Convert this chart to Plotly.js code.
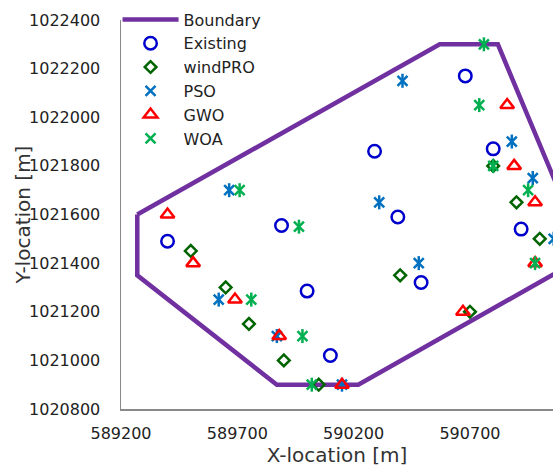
<!DOCTYPE html>
<html>
<head>
<meta charset="utf-8">
<script src="https://cdn.plot.ly/plotly-3.0.1.min.js"></script>
<style>
html,body{margin:0;padding:0;overflow:hidden;background:#fff;}
#chart{width:553px;height:468px;}
</style>
</head>
<body>
<div id="chart"></div>
<script>
// Data
const boundaryX = [589270, 590570, 590820, 591200, 590220, 589870, 589270, 589270];
const boundaryY = [1021600, 1022300, 1022300, 1021430, 1020900, 1020900, 1021350, 1021600];

const existingX = [589400, 589890, 590000, 590100, 590290, 590390, 590490, 590680, 590800, 590920];
const existingY = [1021490, 1021555, 1021285, 1021020, 1021860, 1021590, 1021320, 1022170, 1021870, 1021540];

const windproX = [589500, 589650, 589750, 589900, 590050, 590400, 590700, 590800, 590900, 591000];
const windproY = [1021450, 1021300, 1021150, 1021000, 1020900, 1021350, 1021200, 1021800, 1021650, 1021500];

const psoX = [589620, 589665, 589870, 590150, 590310, 590410, 590480, 590880, 590970, 591060];
const psoY = [1021250, 1021700, 1021100, 1020900, 1021650, 1022150, 1021400, 1021900, 1021750, 1021500];

const gwoX = [589400, 589510, 589690, 589880, 590150, 590670, 590860, 590890, 590980, 590980];
const gwoY = [1021600, 1021400, 1021250, 1021100, 1020900, 1021200, 1022050, 1021800, 1021650, 1021400];

const woaX = [589710, 589965, 589760, 589980, 590020, 590760, 590740, 590800, 590950, 590980];
const woaY = [1021700, 1021550, 1021250, 1021100, 1020900, 1022300, 1022050, 1021800, 1021700, 1021400];

const xTickVals = [589200, 589700, 590200, 590700];
const yTickVals = [1020800, 1021000, 1021200, 1021400, 1021600, 1021800, 1022000, 1022200, 1022400];

const FONT = 'DejaVu Sans';
const AST = 10;
const traces = [
  {x: boundaryX, y: boundaryY, name: 'Boundary', mode: 'lines',
   line: {color: '#7030A0', width: 4.5}},
  {x: existingX, y: existingY, name: 'Existing', mode: 'markers',
   marker: {symbol: 'circle-open', size: 12.5, color: '#0000CC', line: {width: 2.5, color: '#0000CC'}}},
  {x: windproX, y: windproY, name: 'windPRO', mode: 'markers',
   marker: {symbol: 'diamond-open', size: 9, color: '#006400', line: {width: 2.5, color: '#006400'}}},
  {x: psoX, y: psoY, name: 'PSO', mode: 'markers', legendgroup: 'pso',
   marker: {symbol: 'x-thin-open', size: AST, color: '#0070C0', line: {width: 2.5, color: '#0070C0'}}},
  {x: psoX, y: psoY, name: 'PSO', mode: 'markers', legendgroup: 'pso', showlegend: false,
   marker: {symbol: 'line-ns-open', size: AST, color: '#0070C0', line: {width: 2.5, color: '#0070C0'}}},
  {x: gwoX, y: gwoY, name: 'GWO', mode: 'markers',
   marker: {symbol: 'triangle-up-open', size: 12, color: '#FF0000', line: {width: 2.5, color: '#FF0000'}}},
  {x: woaX, y: woaY, name: 'WOA', mode: 'markers', legendgroup: 'woa',
   marker: {symbol: 'x-thin-open', size: AST, color: '#00B050', line: {width: 2.5, color: '#00B050'}}},
  {x: woaX, y: woaY, name: 'WOA', mode: 'markers', legendgroup: 'woa', showlegend: false,
   marker: {symbol: 'line-ns-open', size: AST, color: '#00B050', line: {width: 2.5, color: '#00B050'}}}
];

const layout = {
  width: 553, height: 468,
  margin: {l: 121, r: 0, t: 20, b: 59},
  paper_bgcolor: '#fff', plot_bgcolor: '#fff',
  font: {family: FONT, color: '#222'},
  showlegend: true,
  legend: {x: -0.008, y: 1.045, xanchor: 'left', yanchor: 'top', bgcolor: 'rgba(0,0,0,0)',
           font: {family: FONT, size: 16, color: '#222'}, itemwidth: 56, tracegroupgap: 0},
  xaxis: {
    range: [589200, 591057], tickvals: xTickVals, ticktext: xTickVals.map(String),
    showgrid: false, zeroline: false, showline: true, linecolor: '#898989', linewidth: 1.5,
    ticks: '', ticklabelstandoff: 9, tickfont: {family: FONT, size: 16, color: '#222'},
    title: {text: 'X-location [m]', font: {family: FONT, size: 20, color: '#333'}, standoff: 0}
  },
  yaxis: {
    range: [1020800, 1022400], tickvals: yTickVals, ticktext: yTickVals.map(String),
    showgrid: false, zeroline: false, showline: true, linecolor: '#898989', linewidth: 1.5,
    ticks: '', ticklabelstandoff: 16, tickfont: {family: FONT, size: 16, color: '#222'}
  },
  annotations: [{
    text: 'Y-location [m]', xref: 'paper', yref: 'paper', x: -0.227, y: 0.5,
    xanchor: 'center', yanchor: 'middle', textangle: -90, showarrow: false,
    font: {family: FONT, size: 20, color: '#333'}
  }]
};

Plotly.newPlot('chart', traces, layout, {displayModeBar: false, staticPlot: true});
</script>
</body>
</html>
